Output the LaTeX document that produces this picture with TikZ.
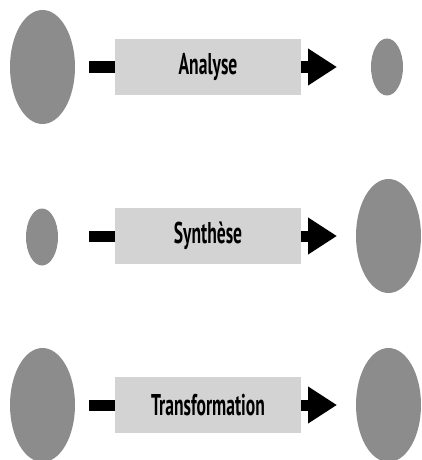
\documentclass[tikz,border=0pt]{standalone}
\usepackage{fontspec}
\newfontfamily\lblfont[FakeStretch=0.585]{PT Sans}
\usetikzlibrary{shapes.geometric,arrows.meta}
\definecolor{blobgray}{HTML}{8C8C8C}
\definecolor{boxgray}{HTML}{D3D3D3}
\tikzset{
  blob/.style={ellipse, fill=blobgray, draw=none, inner sep=0pt},
  bigblob/.style={blob, minimum width=65pt, minimum height=114pt},
  smallblob/.style={blob, minimum width=32pt, minimum height=57pt},
  procbox/.style={rectangle, fill=boxgray, draw=none, minimum width=186pt, minimum height=56pt, inner sep=0pt, font=\lblfont\bfseries\fontsize{30}{32}\selectfont},
  stub/.style={line width=11pt, black},
  flow/.style={line width=11pt, black, -{Triangle[length=29pt,width=35pt]}}
}
\begin{document}
\begin{tikzpicture}[x=1pt,y=-1pt]
\useasboundingbox (0,0) rectangle (421,460);
% Row 1
\node[bigblob] (in1) at (42.5,67) {};
\node[procbox] (p1) at (208,67) {Analyse};
\node[smallblob] (out1) at (387,67) {};
\coordinate (s1) at (89,67);
\coordinate (t1) at (337,67);
\draw[stub] (s1) -- (p1.west);
\draw[flow] (p1.east) -- (t1);
% Row 2
\node[smallblob] (in2) at (42,237) {};
\node[procbox] (p2) at (208,236) {Synthèse};
\node[bigblob] (out2) at (388.5,236) {};
\coordinate (s2) at (89,236);
\coordinate (t2) at (337,236);
\draw[stub] (s2) -- (p2.west);
\draw[flow] (p2.east) -- (t2);
% Row 3
\node[bigblob] (in3) at (42.5,405) {};
\node[procbox] (p3) at (208,405) {Transformation};
\node[bigblob] (out3) at (388.5,405) {};
\coordinate (s3) at (89,405);
\coordinate (t3) at (337,405);
\draw[stub] (s3) -- (p3.west);
\draw[flow] (p3.east) -- (t3);
\end{tikzpicture}
\end{document}
